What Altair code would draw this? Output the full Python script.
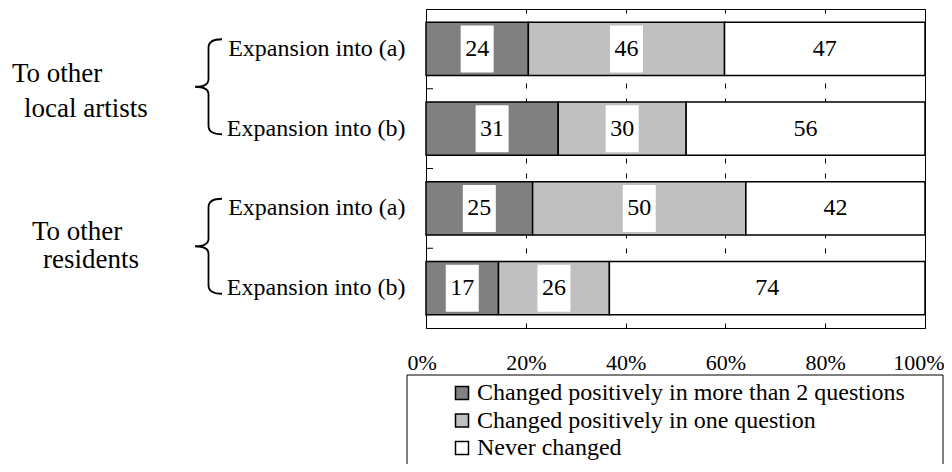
import altair as alt
import pandas as pd

# ---- data ----
row_labels = ["Expansion into (a)", "Expansion into (b)", "Expansion into (a)", "Expansion into (b)"]
group_lines = [["To other", "local artists"], ["To other", "residents"]]
row_group = [0, 0, 1, 1]
categories = ["Changed positively in more than 2 questions",
              "Changed positively in one question",
              "Never changed"]
more_than_2 = [24, 31, 25, 17]
one_question = [46, 30, 50, 26]
never_changed = [47, 56, 42, 74]
colors = ["#808080", "#c0c0c0", "#ffffff"]
x_ticks = [0, 0.2, 0.4, 0.6, 0.8, 1.0]

row_ids = [f"{lab}#{i}" for i, lab in enumerate(row_labels)]
series = [more_than_2, one_question, never_changed]

recs = []
for i, rid in enumerate(row_ids):
    for j, cat in enumerate(categories):
        recs.append({"row": rid, "cat": cat, "order": j, "value": series[j][i]})
df = pd.DataFrame(recs)

rows_df = pd.DataFrame({"row": row_ids, "idx": list(range(len(row_ids)))})
grp_df = pd.DataFrame({
    "row": [row_ids[row_group.index(g)] for g in range(len(group_lines))],
    "l1": [g[0] for g in group_lines],
    "l2": [g[1] for g in group_lines],
    "g": list(range(len(group_lines))),
})

FONT = "Liberation Serif"
H = 319
STEP = H / 4
P_IN = 0.335
BAND = STEP * (1 - P_IN)
GAP = STEP * P_IN  # distance between bars (offsets below measured from band start)

yscale = alt.Scale(paddingInner=P_IN, paddingOuter=P_IN / 2)
yaxis = alt.Axis(title=None, ticks=False, domain=False, grid=False, labelPadding=21,
                 labelFontSize=24, labelFont=FONT, labelColor="black", labelLimit=400,
                 labelExpr="split(datum.value, '#')[0]")
Y = alt.Y("row:N", sort=row_ids, scale=yscale, axis=yaxis)

xscale = alt.Scale(domain=[0, 1])
xaxis = alt.Axis(title=None, values=x_ticks, format=".0%", ticks=False, domain=False,
                 grid=True, gridDash=[5, 10], gridColor="black", gridWidth=1,
                 labelPadding=24, labelFontSize=22, labelFont=FONT, labelColor="black",
                 labelFlush=True, labelFlushOffset=19)

base = alt.Chart(df).transform_stack(
    stack="value", groupby=["row"], as_=["v0", "v1"], offset="normalize",
    sort=[alt.SortField("order", order="ascending")]
).transform_calculate(mid="(datum.v0 + datum.v1) / 2")

bars = base.mark_bar(stroke="black", strokeWidth=1.5).encode(
    x=alt.X("v0:Q", scale=xscale, axis=xaxis),
    x2="v1:Q",
    y=Y,
    color=alt.Color("cat:N", scale=alt.Scale(domain=categories, range=colors),
                    legend=alt.Legend(title=None, orient="none", legendX=24, legendY=372,
                                      symbolType="square", symbolSize=169,
                                      symbolStrokeColor="black", symbolStrokeWidth=1.5,
                                      labelFontSize=24, labelFont=FONT, labelColor="black",
                                      labelOffset=3, rowPadding=3.5, padding=0,
                                      labelLimit=600, symbolOpacity=1)),
)

box_path = "M-0.702,-1 L0.702,-1 L0.702,1 L-0.702,1 Z"
boxes = base.transform_filter("datum.order < 2").mark_point(
    shape=box_path, filled=True, fill="white", size=2209, opacity=1, strokeWidth=0
).encode(x=alt.X("mid:Q", scale=xscale, axis=xaxis), y=Y)

nums = base.mark_text(font=FONT, fontSize=24, color="black", baseline="middle").encode(
    x=alt.X("mid:Q", scale=xscale, axis=xaxis), y=Y, text="value:Q")

# inward ticks at band boundaries (offset from band start of rows 2..4)
ticks = alt.Chart(rows_df).transform_filter("datum.idx > 0").mark_rule(
    color="black", strokeWidth=1
).encode(y=Y, x=alt.value(0), x2=alt.value(7), yOffset=alt.value(-GAP / 2))

brace_path = ("M0.284,-1 Q0,-1 0,-0.82 L0,-0.16 Q0,0 -0.284,0 "
              "Q0,0 0,0.16 L0,0.82 Q0,1 0.284,1")
braces = alt.Chart(grp_df).mark_point(
    shape=brace_path, filled=False, stroke="black", strokeWidth=1.8, size=9025, opacity=1
).encode(y=Y, x=alt.value(-217.5), yOffset=alt.value(BAND + GAP / 2 - 2))

def gtext(g, field, xpix, yoff):
    return alt.Chart(grp_df).transform_filter(f"datum.g == {g}").mark_text(
        font=FONT, fontSize=27, color="black", align="left", baseline="alphabetic"
    ).encode(y=Y, x=alt.value(xpix), yOffset=alt.value(yoff), text=f"{field}:N")

glabels = [
    gtext(0, "l1", -414, 59.3),
    gtext(0, "l2", -402, 94.6),
    gtext(1, "l1", -394, 58.1),
    gtext(1, "l2", -383, 86.1),
]

frame = alt.Chart(alt.Data(values=[{"a": 1}])).mark_rect(
    filled=False, stroke="black", strokeWidth=1
).encode(x=alt.value(-19), x2=alt.value(517), y=alt.value(366), y2=alt.value(480))

chart = alt.layer(bars, boxes, nums, ticks, braces, *glabels, frame).properties(
    width=499, height=H,
    autosize=alt.AutoSizeParams(type="none"),
    padding={"left": 418, "top": 1, "right": 19, "bottom": 136},
    background="white",
).configure_view(stroke="black", strokeWidth=1)

chart.save("out.html", embed_options={"renderer": "svg", "actions": False})
